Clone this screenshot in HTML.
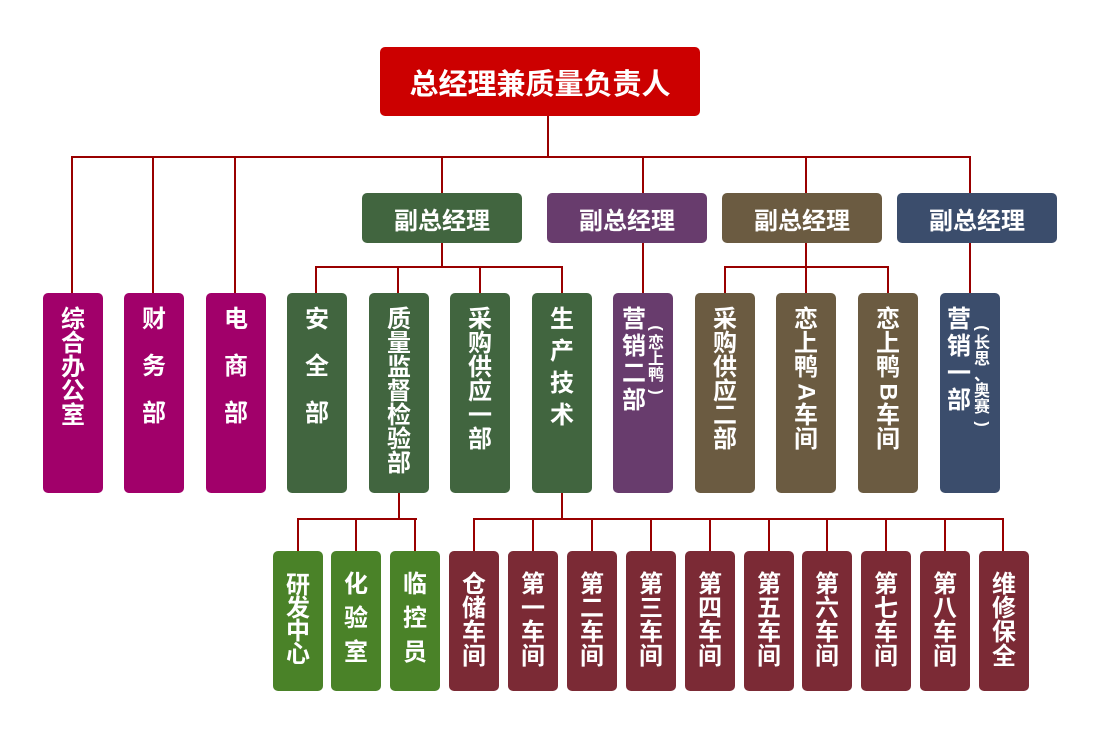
<!DOCTYPE html>
<html><head><meta charset="utf-8"><style>
body{margin:0;width:1100px;height:750px;background:#fff;position:relative;overflow:hidden;font-family:"Liberation Sans","Noto Sans CJK SC",sans-serif;font-weight:bold;}
.l{position:absolute;background:#990000;}
.b{position:absolute;border-radius:5px;color:#fff;box-sizing:border-box;}
.c{display:flex;flex-direction:column;align-items:center;font-size:24px;}
.c span{display:block;}
.h{display:flex;align-items:center;justify-content:center;}
</style></head><body>
<div class="l" style="left:547px;top:116px;width:2px;height:41px"></div>
<div class="l" style="left:71px;top:156px;width:900px;height:2px"></div>
<div class="l" style="left:71px;top:156px;width:2px;height:137px"></div>
<div class="l" style="left:152px;top:156px;width:2px;height:137px"></div>
<div class="l" style="left:234px;top:156px;width:2px;height:137px"></div>
<div class="l" style="left:441px;top:156px;width:2px;height:37px"></div>
<div class="l" style="left:642px;top:156px;width:2px;height:37px"></div>
<div class="l" style="left:805px;top:156px;width:2px;height:37px"></div>
<div class="l" style="left:969px;top:156px;width:2px;height:37px"></div>
<div class="l" style="left:441px;top:243px;width:2px;height:24px"></div>
<div class="l" style="left:315px;top:266px;width:248px;height:2px"></div>
<div class="l" style="left:315px;top:266px;width:2px;height:27px"></div>
<div class="l" style="left:397px;top:266px;width:2px;height:27px"></div>
<div class="l" style="left:479px;top:266px;width:2px;height:27px"></div>
<div class="l" style="left:561px;top:266px;width:2px;height:27px"></div>
<div class="l" style="left:642px;top:243px;width:2px;height:50px"></div>
<div class="l" style="left:969px;top:243px;width:2px;height:50px"></div>
<div class="l" style="left:805px;top:243px;width:2px;height:24px"></div>
<div class="l" style="left:724px;top:266px;width:165px;height:2px"></div>
<div class="l" style="left:724px;top:266px;width:2px;height:27px"></div>
<div class="l" style="left:805px;top:266px;width:2px;height:27px"></div>
<div class="l" style="left:887px;top:266px;width:2px;height:27px"></div>
<div class="l" style="left:398px;top:493px;width:2px;height:26px"></div>
<div class="l" style="left:297px;top:518px;width:120px;height:2px"></div>
<div class="l" style="left:297px;top:518px;width:2px;height:33px"></div>
<div class="l" style="left:355px;top:518px;width:2px;height:33px"></div>
<div class="l" style="left:414px;top:518px;width:2px;height:33px"></div>
<div class="l" style="left:561px;top:493px;width:2px;height:26px"></div>
<div class="l" style="left:473px;top:518px;width:531px;height:2px"></div>
<div class="l" style="left:473px;top:518px;width:2px;height:33px"></div>
<div class="l" style="left:532px;top:518px;width:2px;height:33px"></div>
<div class="l" style="left:591px;top:518px;width:2px;height:33px"></div>
<div class="l" style="left:650px;top:518px;width:2px;height:33px"></div>
<div class="l" style="left:709px;top:518px;width:2px;height:33px"></div>
<div class="l" style="left:768px;top:518px;width:2px;height:33px"></div>
<div class="l" style="left:826px;top:518px;width:2px;height:33px"></div>
<div class="l" style="left:885px;top:518px;width:2px;height:33px"></div>
<div class="l" style="left:944px;top:518px;width:2px;height:33px"></div>
<div class="l" style="left:1002px;top:518px;width:2px;height:33px"></div>

<div class="b h" style="left:380px;top:47px;width:320px;height:69px;background:#cc0000;font-size:29px">总经理兼质量负责人</div>
<div class="b h" style="left:362px;top:193px;width:160px;height:50px;background:#41653f;font-size:24px">副总经理</div>
<div class="b h" style="left:547px;top:193px;width:160px;height:50px;background:#683c6d;font-size:24px">副总经理</div>
<div class="b h" style="left:722px;top:193px;width:160px;height:50px;background:#6b5b41;font-size:24px">副总经理</div>
<div class="b h" style="left:897px;top:193px;width:160px;height:50px;background:#3b4d6c;font-size:24px">副总经理</div>

<div class="b c" style="left:43px;top:293px;width:60px;height:200px;background:#a1006a;padding-top:15px;line-height:24px"><span>综</span><span>合</span><span>办</span><span>公</span><span>室</span></div>
<div class="b c" style="left:124px;top:293px;width:60px;height:200px;background:#a1006a;padding-top:3px;line-height:47px"><span>财</span><span>务</span><span>部</span></div>
<div class="b c" style="left:206px;top:293px;width:60px;height:200px;background:#a1006a;padding-top:3px;line-height:47px"><span>电</span><span>商</span><span>部</span></div>
<div class="b c" style="left:287px;top:293px;width:60px;height:200px;background:#41653f;padding-top:3px;line-height:47px"><span>安</span><span>全</span><span>部</span></div>
<div class="b c" style="left:369px;top:293px;width:60px;height:200px;background:#41653f;padding-top:15px;line-height:24px"><span>质</span><span>量</span><span>监</span><span>督</span><span>检</span><span>验</span><span>部</span></div>
<div class="b c" style="left:450px;top:293px;width:60px;height:200px;background:#41653f;padding-top:15px;line-height:24px"><span>采</span><span>购</span><span>供</span><span>应</span><span>一</span><span>部</span></div>
<div class="b c" style="left:532px;top:293px;width:60px;height:200px;background:#41653f;padding-top:11px;line-height:32px"><span>生</span><span>产</span><span>技</span><span>术</span></div>
<div class="b" style="left:613px;top:293px;width:60px;height:200px;background:#683c6d">
  <div class="c" style="position:absolute;left:8px;top:13px;width:26px;line-height:27px"><span>营</span><span>销</span><span>二</span><span>部</span></div>
  <div class="c" style="position:absolute;left:34px;top:27px;width:18px;font-size:16px;line-height:16px"><span style="transform:rotate(90deg)">(</span><span>恋</span><span>上</span><span>鸭</span><span style="transform:rotate(90deg)">)</span></div>
</div>
<div class="b c" style="left:695px;top:293px;width:60px;height:200px;background:#6b5b41;padding-top:15px;line-height:24px"><span>采</span><span>购</span><span>供</span><span>应</span><span>二</span><span>部</span></div>
<div class="b c" style="left:776px;top:293px;width:60px;height:200px;background:#6b5b41;padding-top:15px;line-height:24px"><span>恋</span><span>上</span><span>鸭</span><span style="transform:rotate(90deg)">A</span><span>车</span><span>间</span></div>
<div class="b c" style="left:858px;top:293px;width:60px;height:200px;background:#6b5b41;padding-top:15px;line-height:24px"><span>恋</span><span>上</span><span>鸭</span><span style="transform:rotate(90deg)">B</span><span>车</span><span>间</span></div>
<div class="b" style="left:940px;top:293px;width:60px;height:200px;background:#3b4d6c">
  <div class="c" style="position:absolute;left:6px;top:13px;width:26px;line-height:27px"><span>营</span><span>销</span><span>一</span><span>部</span></div>
  <div class="c" style="position:absolute;left:33px;top:27px;width:18px;font-size:16px;line-height:16px"><span style="transform:rotate(90deg)">(</span><span>长</span><span>思</span><span>、</span><span>奥</span><span>赛</span><span style="transform:rotate(90deg)">)</span></div>
</div>

<div class="b c" style="left:273px;top:551px;width:50px;height:140px;background:#4a8228;padding-top:23px;line-height:23px"><span>研</span><span>发</span><span>中</span><span>心</span></div>
<div class="b c" style="left:331px;top:551px;width:50px;height:140px;background:#4a8228;padding-top:17px;line-height:34px"><span>化</span><span>验</span><span>室</span></div>
<div class="b c" style="left:390px;top:551px;width:50px;height:140px;background:#4a8228;padding-top:17px;line-height:34px"><span>临</span><span>控</span><span>员</span></div>
<div class="b c" style="left:449px;top:551px;width:50px;height:140px;background:#7b2a35;padding-top:22px;line-height:24px"><span>仓</span><span>储</span><span>车</span><span>间</span></div>
<div class="b c" style="left:508px;top:551px;width:50px;height:140px;background:#7b2a35;padding-top:22px;line-height:24px"><span>第</span><span>一</span><span>车</span><span>间</span></div>
<div class="b c" style="left:567px;top:551px;width:50px;height:140px;background:#7b2a35;padding-top:22px;line-height:24px"><span>第</span><span>二</span><span>车</span><span>间</span></div>
<div class="b c" style="left:626px;top:551px;width:50px;height:140px;background:#7b2a35;padding-top:22px;line-height:24px"><span>第</span><span>三</span><span>车</span><span>间</span></div>
<div class="b c" style="left:685px;top:551px;width:50px;height:140px;background:#7b2a35;padding-top:22px;line-height:24px"><span>第</span><span>四</span><span>车</span><span>间</span></div>
<div class="b c" style="left:744px;top:551px;width:50px;height:140px;background:#7b2a35;padding-top:22px;line-height:24px"><span>第</span><span>五</span><span>车</span><span>间</span></div>
<div class="b c" style="left:802px;top:551px;width:50px;height:140px;background:#7b2a35;padding-top:22px;line-height:24px"><span>第</span><span>六</span><span>车</span><span>间</span></div>
<div class="b c" style="left:861px;top:551px;width:50px;height:140px;background:#7b2a35;padding-top:22px;line-height:24px"><span>第</span><span>七</span><span>车</span><span>间</span></div>
<div class="b c" style="left:920px;top:551px;width:50px;height:140px;background:#7b2a35;padding-top:22px;line-height:24px"><span>第</span><span>八</span><span>车</span><span>间</span></div>
<div class="b c" style="left:979px;top:551px;width:50px;height:140px;background:#7b2a35;padding-top:22px;line-height:24px"><span>维</span><span>修</span><span>保</span><span>全</span></div>
</body></html>
